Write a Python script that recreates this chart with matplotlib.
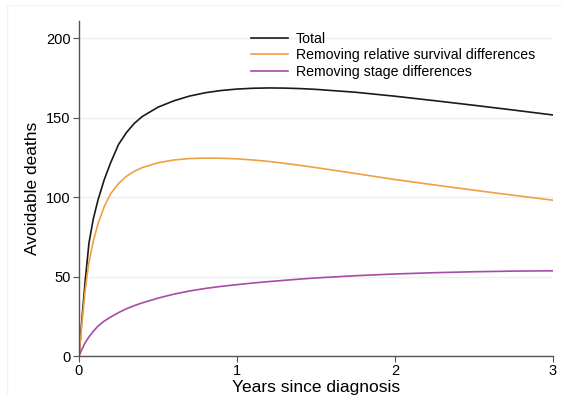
import matplotlib
matplotlib.use("Agg")
from matplotlib import pyplot as plt
from matplotlib.lines import Line2D

plt.rcParams['font.family'] = ['Liberation Sans', 'DejaVu Sans']

# years since diagnosis
years = [0, 0.02, 0.04, 0.063, 0.09, 0.12, 0.16, 0.2, 0.25, 0.3, 0.35, 0.4, 0.5, 0.6, 0.7, 0.8, 0.9,
         1.0, 1.1, 1.2, 1.3, 1.4, 1.5, 1.75, 2.0, 2.25, 2.5, 2.75, 3.0]
total = [0, 25, 48, 71, 86, 98, 111, 121.5, 133, 140.5, 146.3, 150.6, 156.5, 160.5, 163.5, 165.6, 167,
         167.9, 168.4, 168.6, 168.5, 168.2, 167.7, 165.9, 163.4, 160.6, 157.7, 154.7, 151.6]
rel_surv = [0, 22, 42, 59, 72, 83, 94, 102, 108.5, 113, 116.2, 118.5, 121.5, 123.3, 124.2, 124.5, 124.4,
            124, 123.3, 122.4, 121.2, 119.9, 118.5, 114.8, 111, 107.6, 104.3, 101.1, 98]
stage = [0, 4.5, 8.5, 12, 15.5, 18.8, 22, 24.5, 27.3, 29.7, 31.7, 33.4, 36.4, 38.9, 40.9, 42.5, 43.8,
         44.9, 45.9, 46.8, 47.6, 48.4, 49.1, 50.5, 51.6, 52.4, 53, 53.4, 53.6]

series_names = ["Total", "Removing relative survival differences", "Removing stage differences"]
colors = ["#1a1a1a", "#f0a044", "#a64ca6"]

fig = plt.figure(figsize=(5.63, 3.95), dpi=100)
ax = fig.add_axes([0.1403, 0.0987, 0.8419, 0.8481])

for vals, name, c in zip([total, rel_surv, stage], series_names, colors):
    ax.plot(years, vals, color=c, lw=1.2, label=name)

ax.set_xlim(0, 3)
ax.set_ylim(0, 210.7)
ax.set_xticks([0, 1, 2, 3])
ax.set_yticks([0, 50, 100, 150, 200])
ax.grid(axis='y', color='#eaf2f2', lw=1.0)
ax.set_axisbelow(True)

for s in ['top', 'right']:
    ax.spines[s].set_visible(False)
for s in ['left', 'bottom']:
    ax.spines[s].set_color('#555555')
    ax.spines[s].set_linewidth(1.0)
ax.tick_params(direction='out', length=4, color='#555555', labelsize=10.5, pad=2)

ax.set_xlabel("Years since diagnosis", fontsize=12.5, labelpad=1)
ax.set_ylabel("Avoidable deaths", fontsize=12.5, labelpad=4)

ax.legend(loc='upper left', bbox_to_anchor=(0.346, 0.994), frameon=False, fontsize=10.2,
          handlelength=2.6, handletextpad=0.55, labelspacing=0.18, borderaxespad=0.2)

# faint outer frame of the original figure
fig.add_artist(Line2D([7 / 563, 7 / 563], [0, 1 - 5 / 395], transform=fig.transFigure, color='#eef3f3', lw=1))
fig.add_artist(Line2D([7 / 563, 1], [1 - 5 / 395, 1 - 5 / 395], transform=fig.transFigure, color='#f4f7f7', lw=1))

fig.savefig("out.png", dpi=100)
